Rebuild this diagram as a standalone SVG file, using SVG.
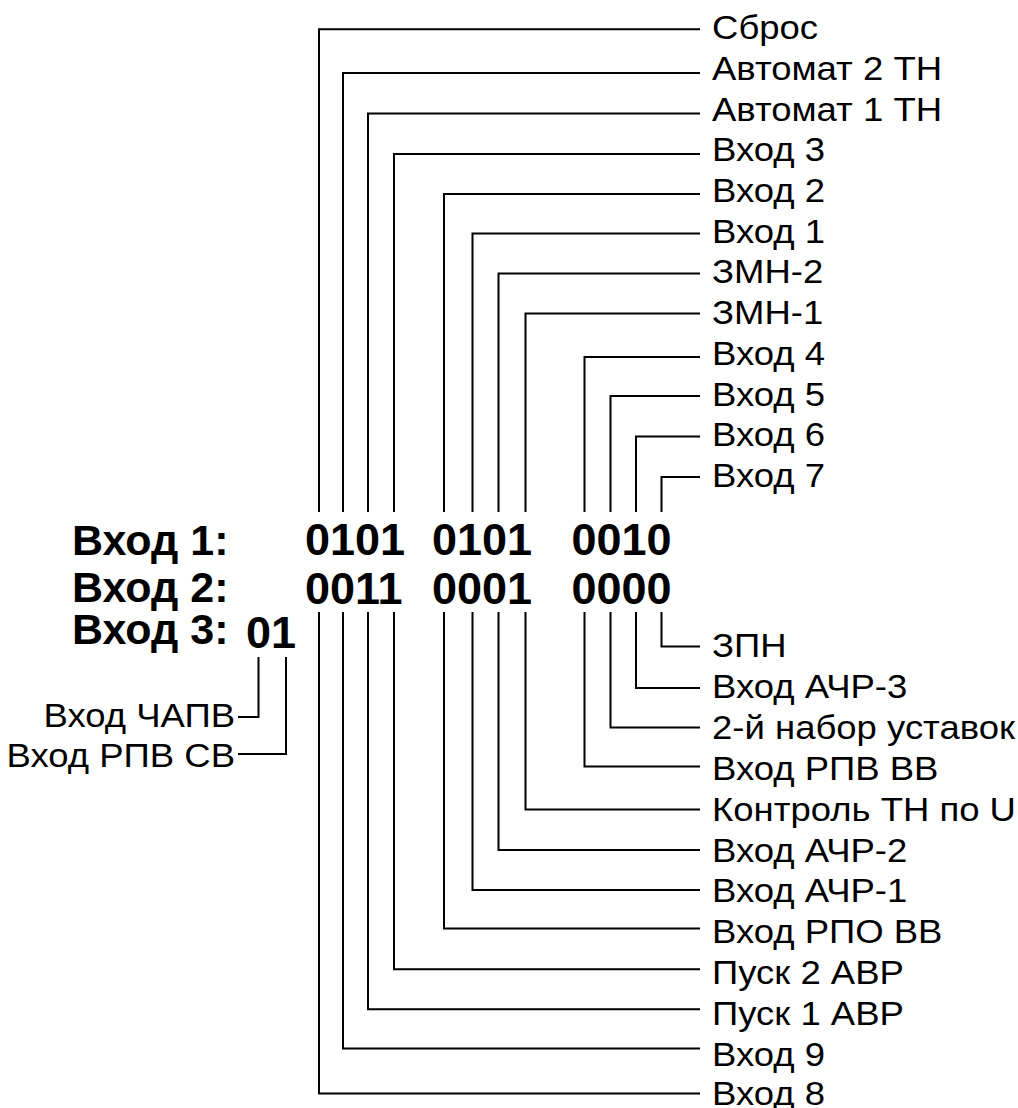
<svg xmlns="http://www.w3.org/2000/svg" width="1018" height="1108" viewBox="0 0 1018 1108">
<style>
.lbl{font-family:"Liberation Sans",Arial,sans-serif;font-size:33px;fill:#000}
.lblr{font-family:"Liberation Sans",Arial,sans-serif;font-size:33px;fill:#000;text-anchor:end}
.hdr{font-family:"Liberation Sans",Arial,sans-serif;font-size:43px;font-weight:bold;fill:#000}
.dig{font-family:"Liberation Sans",Arial,sans-serif;font-size:45px;font-weight:bold;fill:#000}
.conn path{fill:none;stroke:#000;stroke-width:2}
</style>
<rect width="1018" height="1108" fill="#fff"/>
<g id="connectors" class="conn">
<path d="M700,29.3H319V512"/>
<path d="M700,73H343V512"/>
<path d="M700,113.5H368V512"/>
<path d="M700,154H394V512"/>
<path d="M700,194H444V512"/>
<path d="M700,233.5H472.5V512"/>
<path d="M700,273.5H498.5V512"/>
<path d="M700,313.5H525.5V512"/>
<path d="M700,357H584.5V512"/>
<path d="M700,396H610.5V512"/>
<path d="M700,436.5H636V512"/>
<path d="M700,477H661.5V512"/>
<path d="M661.5,612V646.5H700"/>
<path d="M636,612V688H700"/>
<path d="M610.5,612V727.5H700"/>
<path d="M584.5,612V766.5H700"/>
<path d="M525.5,612V809.5H700"/>
<path d="M498.5,612V850H700"/>
<path d="M472.5,612V890H700"/>
<path d="M444,612V928.5H700"/>
<path d="M394,612V969.3H700"/>
<path d="M368,612V1009.3H700"/>
<path d="M343,612V1048.5H700"/>
<path d="M319,612V1093.5H700"/>
<path d="M258.5,657V717H238"/>
<path d="M286,657V754H238"/>
</g>
<g id="row-headers">
<text class="hdr" x="72" y="555">Вход 1:</text>
<text class="hdr" x="72" y="602">Вход 2:</text>
<text class="hdr" x="72" y="644">Вход 3:</text>
</g>
<g id="row1-bits">
<text class="dig" x="305" y="555">0101</text>
<text class="dig" x="432" y="555">0101</text>
<text class="dig" x="571.5" y="555">0010</text>
</g>
<g id="row2-bits">
<text class="dig" x="305" y="604">0011</text>
<text class="dig" x="432" y="604">0001</text>
<text class="dig" x="571.5" y="604">0000</text>
</g>
<g id="row3-bits">
<text class="dig" x="246" y="647.5">01</text>
</g>
<g id="labels-top" transform="scale(1.106,1)">
<text id="n-sbros" class="lbl" x="643.8" y="39.3">Сброс</text>
<text id="n-avt2" class="lbl" x="643.8" y="80">Автомат 2 ТН</text>
<text id="n-avt1" class="lbl" x="643.8" y="120.7">Автомат 1 ТН</text>
<text id="n-vh3" class="lbl" x="643.8" y="161.4">Вход 3</text>
<text id="n-vh2" class="lbl" x="643.8" y="202.1">Вход 2</text>
<text id="n-vh1" class="lbl" x="643.8" y="242.8">Вход 1</text>
<text id="n-zmn2" class="lbl" x="643.8" y="283.5">ЗМН-2</text>
<text id="n-zmn1" class="lbl" x="643.8" y="324.2">ЗМН-1</text>
<text id="n-vh4" class="lbl" x="643.8" y="364.9">Вход 4</text>
<text id="n-vh5" class="lbl" x="643.8" y="405.6">Вход 5</text>
<text id="n-vh6" class="lbl" x="643.8" y="446.3">Вход 6</text>
<text id="n-vh7" class="lbl" x="643.8" y="487">Вход 7</text>
</g>
<g id="labels-bottom" transform="scale(1.106,1)">
<text id="n-zpn" class="lbl" x="643.8" y="657.3">ЗПН</text>
<text id="n-achr3" class="lbl" x="643.8" y="698.2">Вход АЧР-3</text>
<text id="n-nabor2" class="lbl" x="643.8" y="739">2-й набор уставок</text>
<text id="n-rpvvv" class="lbl" x="643.8" y="779.9">Вход РПВ ВВ</text>
<text id="n-kontrol" class="lbl" x="643.8" y="820.7">Контроль ТН по U</text>
<text id="n-achr2" class="lbl" x="643.8" y="861.6">Вход АЧР-2</text>
<text id="n-achr1" class="lbl" x="643.8" y="902.4">Вход АЧР-1</text>
<text id="n-rpovv" class="lbl" x="643.8" y="943.3">Вход РПО ВВ</text>
<text id="n-pusk2" class="lbl" x="643.8" y="984.1">Пуск 2 АВР</text>
<text id="n-pusk1" class="lbl" x="643.8" y="1025">Пуск 1 АВР</text>
<text id="n-vh9" class="lbl" x="643.8" y="1065.8">Вход 9</text>
<text id="n-vh8" class="lbl" x="643.8" y="1105.5">Вход 8</text>
</g>
<g id="labels-left" transform="scale(1.106,1)">
<text id="n-chapv" class="lblr" x="212.5" y="726.7">Вход ЧАПВ</text>
<text id="n-rpvsv" class="lblr" x="212.5" y="766.7">Вход РПВ СВ</text>
</g>
</svg>
